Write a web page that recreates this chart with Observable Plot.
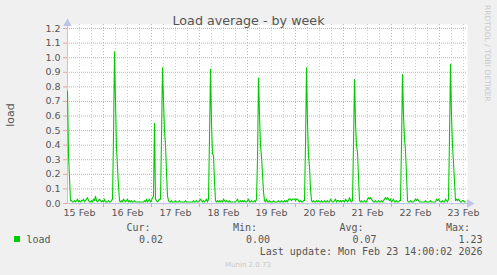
<!DOCTYPE html>
<html><head><meta charset="utf-8">
<script src="https://cdn.jsdelivr.net/npm/d3@7"></script>
<script src="https://cdn.jsdelivr.net/npm/@observablehq/plot@0.6"></script>
<style>
html,body{margin:0;padding:0;background:#f0f0f0;}
#chart{position:relative;width:497px;height:275px;background:#f0f0f0;overflow:hidden;}
#chart svg{display:block;}
</style></head><body><div id="chart"></div>
<script>
// ---- data (30-minute samples starting 15 Feb 2026 06:00) ----
const titleText = "Load average - by week";
const yAxisLabel = "load";
const seriesName = "load";
const sideText = "RRDTOOL / TOBI OETIKER";
const footerText = "Munin 2.0.73";
const lastUpdate = "Last update: Mon Feb 23 14:00:02 2026";
const statLabels = ["Cur:", "Min:", "Avg:", "Max:"];
const statValues = ["0.02", "0.00", "0.07", "1.23"];
const yTicks = [0, 0.1, 0.2, 0.3, 0.4, 0.5, 0.6, 0.7, 0.8, 0.9, 1.0, 1.1, 1.2];
const startTime = Date.UTC(2026, 1, 15, 6, 0, 0);
const endTime = Date.UTC(2026, 1, 23, 14, 0, 0);

const loadFeb15 = [.77,.34,.18,.02,
 .02,.01,.01,.02,.01,.02,.03,.01,.02,.01,
 .02,.02,.03,.01,.02,.03,.04,.02,.01,.01,
 .02,.01,.03,.02,.05,.02,.01,.02,.03,.02,
 .01,.02,.01,.03,.01,.01,.01,.02,.01,.01,.02,
 .03,.45,1.04];
const loadFeb16 = [.7,.38,.25,.12,.02,
 .01,.02,.01,.03,.02,.01,.02,.03,.01,.02,
 .01,.02,.01,.01,.02,.01,.01,.01,.01,.01,
 .01,.01,.01,.01,.02,.01,.03,.01,.02,.03,
 .01,.02,.04,
 .05,.55,.03,
 .02,.01,.02,.03,
 .03,.45,.93];
const loadFeb17 = [.7,.5,.4,.22,.05,.02,
 .01,.01,.02,.01,.01,.01,.02,.01,.01,.01,
 .02,.01,.01,.01,.01,.01,.02,.01,.01,.01,
 .01,.01,.01,.01,.02,.01,.01,.02,.01,.01,
 .02,.03,.02,.01,.02,.01,.02,.03,.01,
 .03,.45,.92];
const loadFeb18 = [.55,.34,.33,.15,.02,
 .01,.02,.01,.02,.01,.02,.01,.03,.02,.01,
 .02,.01,.01,.02,.01,.01,.01,.01,.01,.01,
 .02,.03,.01,.01,.02,.01,.02,.01,.02,.01,
 .01,.02,.03,.01,.01,.02,.01,.01,.02,.01,
 .03,.3,.86];
const loadFeb19 = [.6,.4,.32,.2,.08,.02,
 .01,.03,.01,.01,.02,.01,.01,.01,.02,.01,
 .01,.01,.01,.02,.01,.01,.02,.01,.01,.02,
 .01,.02,.01,.03,.03,.03,.02,.03,.03,.03,
 .02,.03,.03,.02,.01,.02,.01,.01,.02,
 .02,.4,.93];
const loadFeb20 = [.55,.33,.25,.1,.02,
 .01,.02,.01,.01,.02,.01,.02,.01,.01,.02,
 .01,.01,.02,.01,.01,.02,.01,.01,.03,.02,
 .01,.01,.02,.03,.01,.02,.02,.01,.02,.01,
 .02,.02,.01,.03,.02,.01,.02,.04,.02,.01,
 .02,.4,.85];
const loadFeb21 = [.55,.4,.35,.18,.02,
 .01,.02,.01,.01,.02,.01,.01,.03,.04,.03,
 .04,.03,.02,.01,.01,.02,.01,.01,.02,.01,
 .01,.02,.01,.02,.03,.04,.03,.04,.03,.02,
 .03,.01,.02,.03,.01,.01,.02,.01,.01,.02,
 .02,.4,.885];
const loadFeb22 = [.6,.45,.36,.2,.02,
 .01,.01,.02,.01,.01,.01,.02,.03,.02,.03,
 .02,.01,.01,.01,.01,.01,.01,.02,.01,.01,
 .01,.01,.02,.01,.01,.01,.01,.01,.03,.02,
 .03,.02,.01,.01,.02,.01,.01,.03,.02,.01,
 .03,.45,.955];
const loadFeb23 = [.6,.4,.28,.15,.02,
 .03,.02,.03,.02,.01,.01,.02,.02,.01,.01];

const loadValues = [].concat(loadFeb15, loadFeb16, loadFeb17, loadFeb18, loadFeb19,
  loadFeb20, loadFeb21, loadFeb22, loadFeb23);
const data = loadValues.map((v, i) => ({t: new Date(startTime + i * 30 * 60000), v}));

const t0 = new Date(startTime), t1 = new Date(endTime);
const midnights = d3.utcDay.range(new Date(startTime + 1), t1);
const sixHours = d3.utcHour.every(6).range(new Date(startTime + 1), t1)
  .filter(d => d.getUTCHours() !== 0);
const noons = d3.utcHour.every(12).range(t0, t1).filter(d => d.getUTCHours() === 12);

const yTop = 179 / 145.8;
const red = "#eaa0a0", grey = "#cdcdcd", axisCol = "#bfc3ea", textCol = "#555";

const plot = Plot.plot({
  width: 497, height: 275,
  marginLeft: 67, marginRight: 30, marginTop: 24, marginBottom: 72,
  style: {background: "transparent", fontFamily: "DejaVu Sans", fontSize: "9.5px", color: textCol},
  x: {type: "utc", domain: [t0, t1]},
  y: {domain: [0, yTop]},
  marks: [
    Plot.frame({fill: "white", stroke: "none"}),
    Plot.ruleX(sixHours, {stroke: grey, strokeDasharray: "1,2"}),
    Plot.ruleX(midnights, {stroke: red, strokeDasharray: "1,2"}),
    Plot.ruleY(yTicks.slice(1), {stroke: red, strokeDasharray: "1,1"}),
    Plot.axisY({ticks: yTicks, tickFormat: d => d.toFixed(1), tickSize: 4, tickPadding: 3,
      stroke: red, fill: textCol, label: null}),
    Plot.axisX({ticks: noons, tickFormat: d3.utcFormat("%-d %b"), tickSize: 0, tickPadding: 6,
      fill: textCol, label: null}),
    Plot.axisX({ticks: midnights, tickFormat: () => "", tickSize: 4, stroke: red, label: null}),
    Plot.axisX({ticks: sixHours, tickFormat: () => "", tickSize: 2, stroke: grey, label: null}),
    Plot.ruleX([t0], {y1: 0, y2: yTop, stroke: axisCol}),
    Plot.ruleY([0], {x1: t0, x2: t1, stroke: axisCol, dx: 0}),
    Plot.line(data, {x: "t", y: "v", stroke: "#00cc00", strokeWidth: 1.1}),
    Plot.dot([0], {x: () => t0, y: () => yTop, symbol: "triangle", r: 3.2, fill: axisCol, stroke: "none", dy: -1}),
    Plot.dot([0], {x: () => t1, y: () => 0, symbol: "triangle", r: 3.2, fill: axisCol, stroke: "none", rotate: 90, dx: 2})
  ]
});
document.getElementById("chart").appendChild(plot);

// ---- surrounding text (title, labels, legend) ----
const svg = d3.select(plot);
const sans = "DejaVu Sans", mono = "DejaVu Sans Mono";
function txt(s, x, y, opts = {}) {
  const t = svg.append("text").text(s).attr("x", x).attr("y", y)
    .attr("font-family", opts.family || sans).attr("font-size", opts.size || 10)
    .attr("fill", opts.fill || textCol).attr("text-anchor", opts.anchor || "start");
  if (opts.rotate) t.attr("transform", `rotate(${opts.rotate},${x},${y})`);
  return t;
}
txt(titleText, 248.5, 24.5, {size: 12.7, anchor: "middle", fill: "#555"});
txt(yAxisLabel, 14, 115, {size: 11, anchor: "middle", rotate: -90});
txt(sideText, 485, 5, {size: 7.5, fill: "#c8c8c8", rotate: 90});
svg.append("rect").attr("x", 14).attr("y", 236).attr("width", 6).attr("height", 6).attr("fill", "#00cc00");
txt(seriesName, 26.5, 243, {family: mono});
const labelEnds = [150.5, 257, 363.5, 470];
const valueEnds = [163, 270, 376.5, 482.5];
statLabels.forEach((s, k) => txt(s, labelEnds[k], 231.3, {family: mono, anchor: "end"}));
statValues.forEach((s, k) => txt(s, valueEnds[k], 243, {family: mono, anchor: "end"}));
txt(lastUpdate, 482.5, 255.3, {family: mono, anchor: "end"});
txt(footerText, 248, 266.5, {size: 7, anchor: "middle", fill: "#c8c8c8"});
</script></body></html>
